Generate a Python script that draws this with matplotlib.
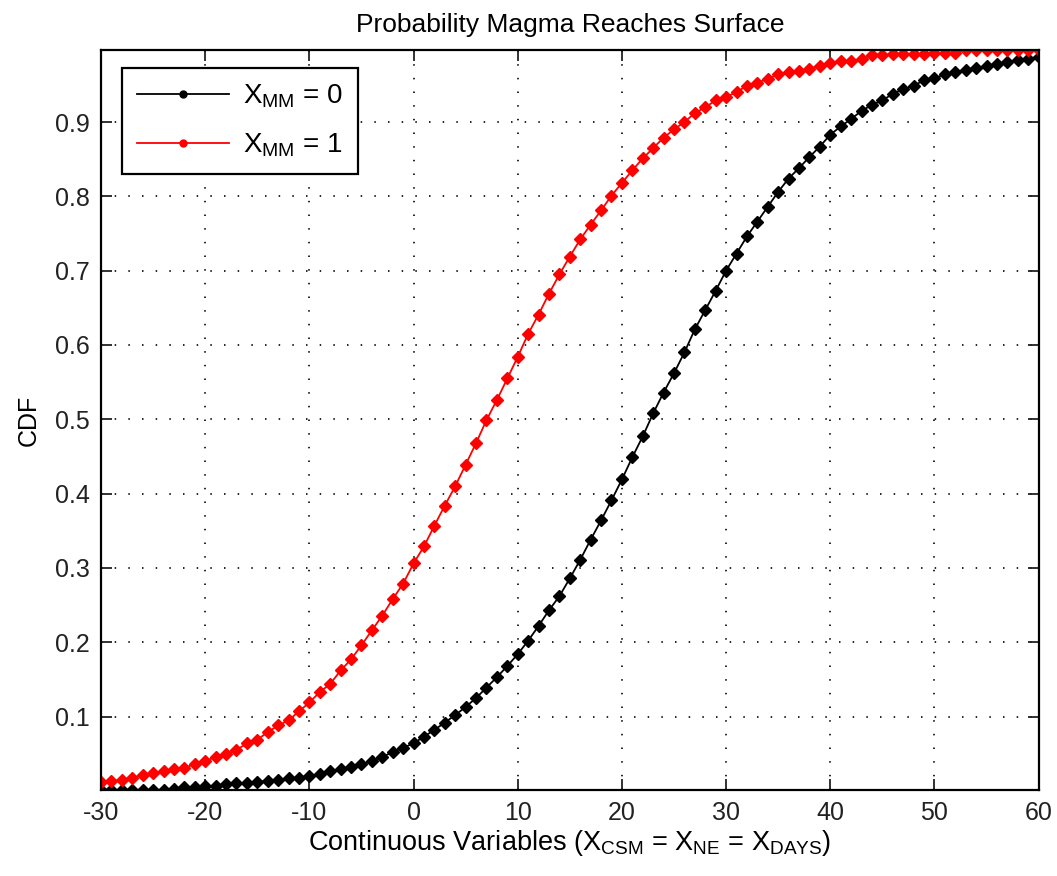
import matplotlib
matplotlib.use("Agg")
import matplotlib.pyplot as plt
from matplotlib.lines import Line2D

plt.rcParams["font.family"] = ["Liberation Sans", "DejaVu Sans"]
plt.rcParams["mathtext.default"] = "regular"
plt.rcParams["axes.unicode_minus"] = False

x_vals = list(range(-30, 61))

cdf_mm0 = [
    0.001, 0.001, 0.001, 0.001, 0.001, 0.001, 0.001, 0.003, 0.005, 0.005,
    0.006, 0.007, 0.009, 0.010, 0.011, 0.012, 0.013, 0.015, 0.017, 0.018,
    0.020, 0.023, 0.027, 0.029, 0.032, 0.036, 0.040, 0.046, 0.052, 0.058,
    0.064, 0.073, 0.082, 0.092, 0.102, 0.113, 0.125, 0.139, 0.153, 0.168,
    0.184, 0.202, 0.222, 0.243, 0.262, 0.286, 0.311, 0.338, 0.364, 0.391,
    0.419, 0.449, 0.477, 0.508, 0.536, 0.562, 0.590, 0.621, 0.647, 0.673,
    0.700, 0.723, 0.746, 0.766, 0.786, 0.806, 0.824, 0.838, 0.853, 0.867,
    0.883, 0.894, 0.904, 0.915, 0.923, 0.929, 0.938, 0.944, 0.949, 0.956,
    0.959, 0.964, 0.967, 0.970, 0.973, 0.975, 0.978, 0.981, 0.983, 0.985,
    0.988,
]

cdf_mm1 = [
    0.012, 0.013, 0.0145, 0.018, 0.021, 0.024, 0.027, 0.029, 0.031, 0.036,
    0.040, 0.046, 0.049, 0.055, 0.064, 0.069, 0.079, 0.088, 0.095, 0.107,
    0.119, 0.133, 0.144, 0.162, 0.177, 0.196, 0.216, 0.236, 0.258, 0.279,
    0.306, 0.329, 0.357, 0.384, 0.410, 0.439, 0.468, 0.499, 0.526, 0.555,
    0.584, 0.615, 0.641, 0.669, 0.695, 0.719, 0.742, 0.762, 0.781, 0.801,
    0.818, 0.835, 0.851, 0.865, 0.879, 0.890, 0.900, 0.912, 0.920, 0.929,
    0.934, 0.940, 0.949, 0.953, 0.958, 0.964, 0.967, 0.969, 0.972, 0.976,
    0.980, 0.982, 0.982, 0.985, 0.990, 0.990, 0.991, 0.991, 0.991, 0.992,
    0.993, 0.993, 0.993, 0.997, 0.997, 0.997, 0.997, 0.997, 0.997, 0.997,
    0.997,
]

x_ticks = [-30, -20, -10, 0, 10, 20, 30, 40, 50, 60]
y_ticks = [0.1, 0.2, 0.3, 0.4, 0.5, 0.6, 0.7, 0.8, 0.9]

fig = plt.figure(figsize=(10.57, 8.76), dpi=100)
ax = fig.add_axes([0.0956, 0.098, 0.887, 0.845])

ax.plot(x_vals, cdf_mm0, color="black", lw=1.3, marker="D", ms=6)
ax.plot(x_vals, cdf_mm1, color="red", lw=1.3, marker="D", ms=6)

ax.set_xlim(-30, 60)
ax.set_ylim(min(cdf_mm0), max(cdf_mm1))
ax.set_xticks(x_ticks)
ax.set_yticks(y_ticks)
ax.set_yticklabels([f"{v:g}" for v in y_ticks])

ax.grid(True, color="black", lw=1.2, linestyle=(0, (0.9, 7.3)))
ax.tick_params(direction="in", length=8, width=1.3, top=True, right=True,
               labelsize=18, pad=8, colors="#222222")
for sp in ax.spines.values():
    sp.set_linewidth(1.6)

ax.set_title("Probability Magma Reaches Surface", fontsize=19, pad=13)
ax.set_xlabel("Continuous Variables (X$_{CSM}$ = X$_{NE}$ = X$_{DAYS}$)",
              fontsize=19.5, labelpad=2)
ax.set_ylabel("CDF", fontsize=18, labelpad=10)

handles = [
    Line2D([], [], color="black", lw=1.3, marker=".", ms=10),
    Line2D([], [], color="red", lw=1.3, marker=".", ms=10),
]
leg = ax.legend(handles, ["X$_{MM}$ = 0", "X$_{MM}$ = 1"], loc="upper left",
                fontsize=20, handlelength=3.3, handletextpad=0.5,
                fancybox=False, framealpha=1, edgecolor="black",
                borderpad=0.55, labelspacing=0.75, borderaxespad=0,
                bbox_to_anchor=(0.022, 0.976))
leg.get_frame().set_linewidth(1.6)

fig.savefig("out.png", dpi=100)
